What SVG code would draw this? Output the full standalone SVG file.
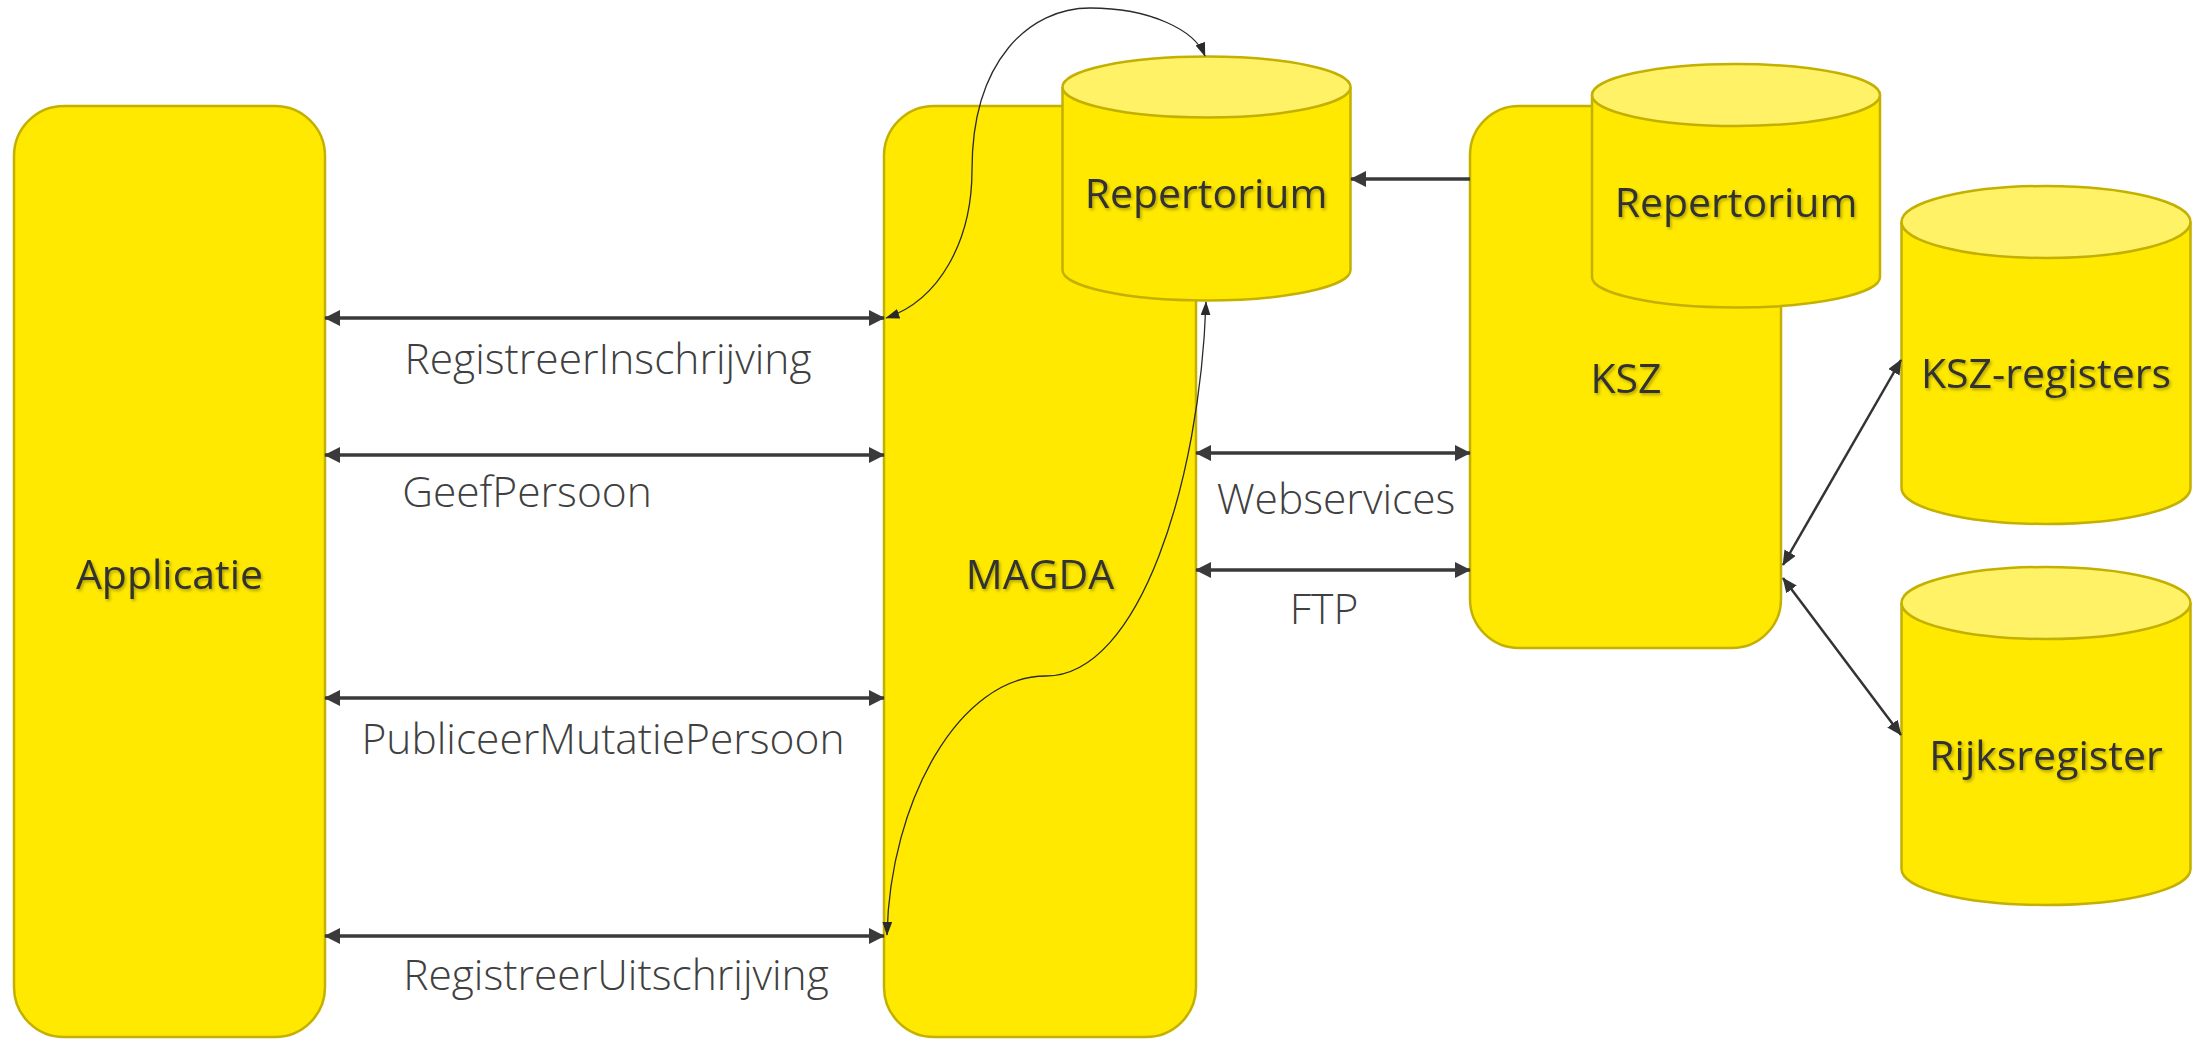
<svg xmlns="http://www.w3.org/2000/svg" width="2195" height="1039" viewBox="0 0 2195 1039">
<style>
.box{fill:#FFE900;stroke:#C4B000;stroke-width:2.5}
.top{fill:#FFF266;stroke:#C4B000;stroke-width:2.5}
.nl{font-family:"Open Sans","Liberation Sans",sans-serif;font-weight:400;font-size:41px;fill:#333333;text-anchor:middle;filter:url(#sh)}
.el{font-family:"Open Sans","Liberation Sans",sans-serif;font-weight:300;font-size:42.5px;fill:#404040;text-anchor:middle}
.thick{fill:none;stroke:#3A3A3A;stroke-width:3.5}
.diag{fill:none;stroke:#333333;stroke-width:2.5}
.thin{fill:none;stroke:#2A2A2A;stroke-width:1.3}
</style>
<defs>
<filter id="sh" x="-10%" y="-30%" width="120%" height="160%">
<feDropShadow dx="1.5" dy="2" stdDeviation="1.5" flood-color="#000" flood-opacity="0.3"/>
</filter>
<marker id="ma" viewBox="0 0 10 10" refX="9.5" refY="5" markerWidth="16" markerHeight="16" markerUnits="userSpaceOnUse" orient="auto-start-reverse">
<path d="M0,0 L10,5 L0,10 z" fill="#3A3A3A"/>
</marker>
<marker id="md" viewBox="0 0 10 10" refX="9.5" refY="5" markerWidth="15" markerHeight="13" markerUnits="userSpaceOnUse" orient="auto-start-reverse" preserveAspectRatio="none">
<path d="M0,0 L10,5 L0,10 z" fill="#333333"/>
</marker>
<marker id="mt" viewBox="0 0 10 10" refX="9.5" refY="5" markerWidth="14" markerHeight="10" markerUnits="userSpaceOnUse" orient="auto-start-reverse" preserveAspectRatio="none">
<path d="M0,0 L10,5 L0,10 z" fill="#2A2A2A"/>
</marker>
</defs>
<rect width="2195" height="1039" fill="#FFFFFF"/>

<g id="applicatie">
<rect class="box" x="14" y="106" width="311" height="931" rx="50" ry="50"/>
<text class="nl" x="169.5" y="589">Applicatie</text>
</g>

<g id="magda">
<rect class="box" x="884" y="106" width="312" height="931" rx="50" ry="50"/>
<text class="nl" x="1040" y="589">MAGDA</text>
</g>

<g id="repertorium-magda">
<path class="box" d="M1062.5,87 V270 A144,30.5 0 0 0 1350.5,270 V87"/>
<ellipse class="top" cx="1206.5" cy="87" rx="144" ry="30.5"/>
<text class="nl" x="1206" y="208">Repertorium</text>
</g>

<g id="ksz">
<rect class="box" x="1470" y="106" width="311" height="542" rx="49" ry="49"/>
<text class="nl" x="1626" y="393">KSZ</text>
</g>

<g id="repertorium-ksz">
<path class="box" d="M1592,95 V277 A144,30.5 0 0 0 1880,277 V95"/>
<ellipse class="top" cx="1736" cy="95" rx="144" ry="31"/>
<text class="nl" x="1736" y="217">Repertorium</text>
</g>

<g id="ksz-registers">
<path class="box" d="M1901.5,222 V488 A144.5,36 0 0 0 2190.5,488 V222"/>
<ellipse class="top" cx="2046" cy="222" rx="144.5" ry="36"/>
<text class="nl" x="2046" y="388">KSZ-registers</text>
</g>

<g id="rijksregister">
<path class="box" d="M1901.5,603 V869 A144.5,36 0 0 0 2190.5,869 V603"/>
<ellipse class="top" cx="2046" cy="603" rx="144.5" ry="36"/>
<text class="nl" x="2046" y="770">Rijksregister</text>
</g>

<g id="connectors">
<path class="thick" d="M325,318 H884" marker-start="url(#ma)" marker-end="url(#ma)"/>
<path class="thick" d="M325,455 H884" marker-start="url(#ma)" marker-end="url(#ma)"/>
<path class="thick" d="M325,698 H884" marker-start="url(#ma)" marker-end="url(#ma)"/>
<path class="thick" d="M325,936 H884" marker-start="url(#ma)" marker-end="url(#ma)"/>
<path class="thick" d="M1196,453 H1470" marker-start="url(#ma)" marker-end="url(#ma)"/>
<path class="thick" d="M1196,570 H1470" marker-start="url(#ma)" marker-end="url(#ma)"/>
<path class="thick" d="M1470,179 H1351" marker-end="url(#ma)"/>
<path class="diag" d="M1783,565 L1901,360" marker-start="url(#md)" marker-end="url(#md)"/>
<path class="diag" d="M1783,578 L1901,735" marker-start="url(#md)" marker-end="url(#md)"/>
<path class="thin" d="M886,318 C940,300 972,240 972,170 C972,60 1030,8 1090,8 C1150,8 1195,30 1205,56" marker-start="url(#mt)" marker-end="url(#mt)"/>
<path class="thin" d="M1206,302 C1200,480 1140,676 1046,676 C960,676 890,800 887,935" marker-start="url(#mt)" marker-end="url(#mt)"/>
<text class="el" x="608" y="374">RegistreerInschrijving</text>
<text class="el" x="527" y="507">GeefPersoon</text>
<text class="el" x="603" y="754">PubliceerMutatiePersoon</text>
<text class="el" x="616" y="990">RegistreerUitschrijving</text>
<text class="el" x="1336" y="514">Webservices</text>
<text class="el" x="1324" y="624">FTP</text>
</g>
</svg>
